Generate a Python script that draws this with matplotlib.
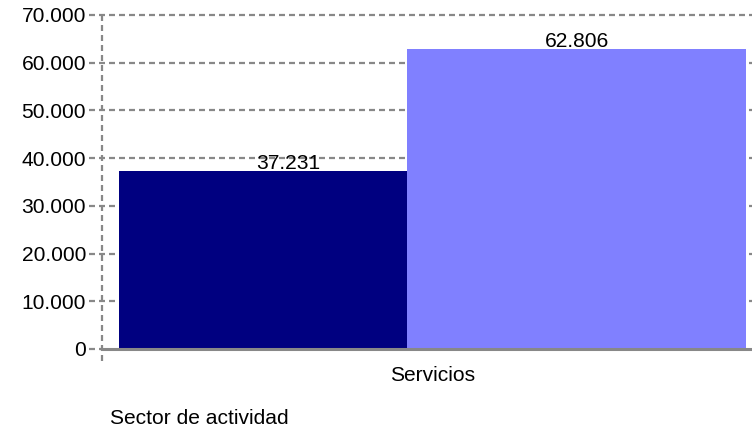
import matplotlib
matplotlib.use("Agg")
import matplotlib.pyplot as plt
from matplotlib.ticker import FuncFormatter
import matplotlib.transforms as mtransforms

plt.rcParams['font.family'] = ['Liberation Sans', 'DejaVu Sans']
plt.rcParams['lines.scale_dashes'] = False

# ---- data ----
category = "Servicios"
series_values = [37231, 62806]
series_colors = ["#000080", "#8080FF"]
y_ticks = [0, 10000, 20000, 30000, 40000, 50000, 60000, 70000]
x_title = "Sector de actividad"

# ---- layout (pixel units within the plot area) ----
W, H, DPI = 752, 430, 100
ax_left_px, ax_right_px = 102, 752
ax_top_px, ax_bottom_px = 15, 349
bar_lefts = [17, 305]
bar_widths = [288, 339]
label_x = [186, 474.5]
cat_center = 330.5
FS = 15.1
GRID = "#888888"

fig = plt.figure(figsize=(W / DPI, H / DPI), dpi=DPI)
ax = fig.add_axes([ax_left_px / W, (H - ax_bottom_px) / H,
                   (ax_right_px - ax_left_px) / W, (ax_bottom_px - ax_top_px) / H])
ax.set_xlim(0, ax_right_px - ax_left_px)
ax.set_ylim(0, 70000)

for sp in ax.spines.values():
    sp.set_visible(False)

# gridlines (extend slightly left of the axis as tick marks)
dash = (6 * 0.72, 4 * 0.72)
for yv in y_ticks[1:]:
    ax.axhline(yv, xmin=-13 / 650, xmax=1, color=GRID, lw=1.6,
               linestyle=(0, dash), clip_on=False, zorder=1)
# zero tick stub
ax.axhline(0, xmin=-13 / 650, xmax=0, color=GRID, lw=1.6,
           linestyle=(0, dash), clip_on=False, zorder=1)

# vertical dashed axis line extending below the baseline
trans_v = mtransforms.blended_transform_factory(ax.transData, ax.transAxes)
ax.plot([0, 0], [-12 / 334, 1], transform=trans_v, color=GRID, lw=1.6,
        linestyle=(0, dash), clip_on=False, zorder=1)

# bars
for left, w, v, c in zip(bar_lefts, bar_widths, series_values, series_colors):
    ax.bar(left, v, width=w, align='edge', color=c, zorder=2, linewidth=0)

# baseline axis
ax.axhline(0, xmin=0, xmax=1, color=GRID, lw=2.2, zorder=3, clip_on=False)

fmt = lambda v: f"{int(v):,}".replace(",", ".")
for x, v in zip(label_x, series_values):
    ax.annotate(fmt(v), (x, v), xytext=(0, 2), textcoords='offset points',
                ha='center', va='baseline', fontsize=FS, color='black', zorder=4)

ax.set_yticks(y_ticks)
ax.yaxis.set_major_formatter(FuncFormatter(lambda v, p: fmt(v)))
ax.tick_params(axis='y', length=0, pad=11.5, labelsize=FS)
ax.set_xticks([cat_center])
ax.set_xticklabels([category])
ax.tick_params(axis='x', length=0, pad=12, labelsize=FS)

fig.text(110 / W, (H - 424) / H, x_title, ha='left', va='baseline', fontsize=FS)

fig.savefig("out.png", dpi=DPI)
